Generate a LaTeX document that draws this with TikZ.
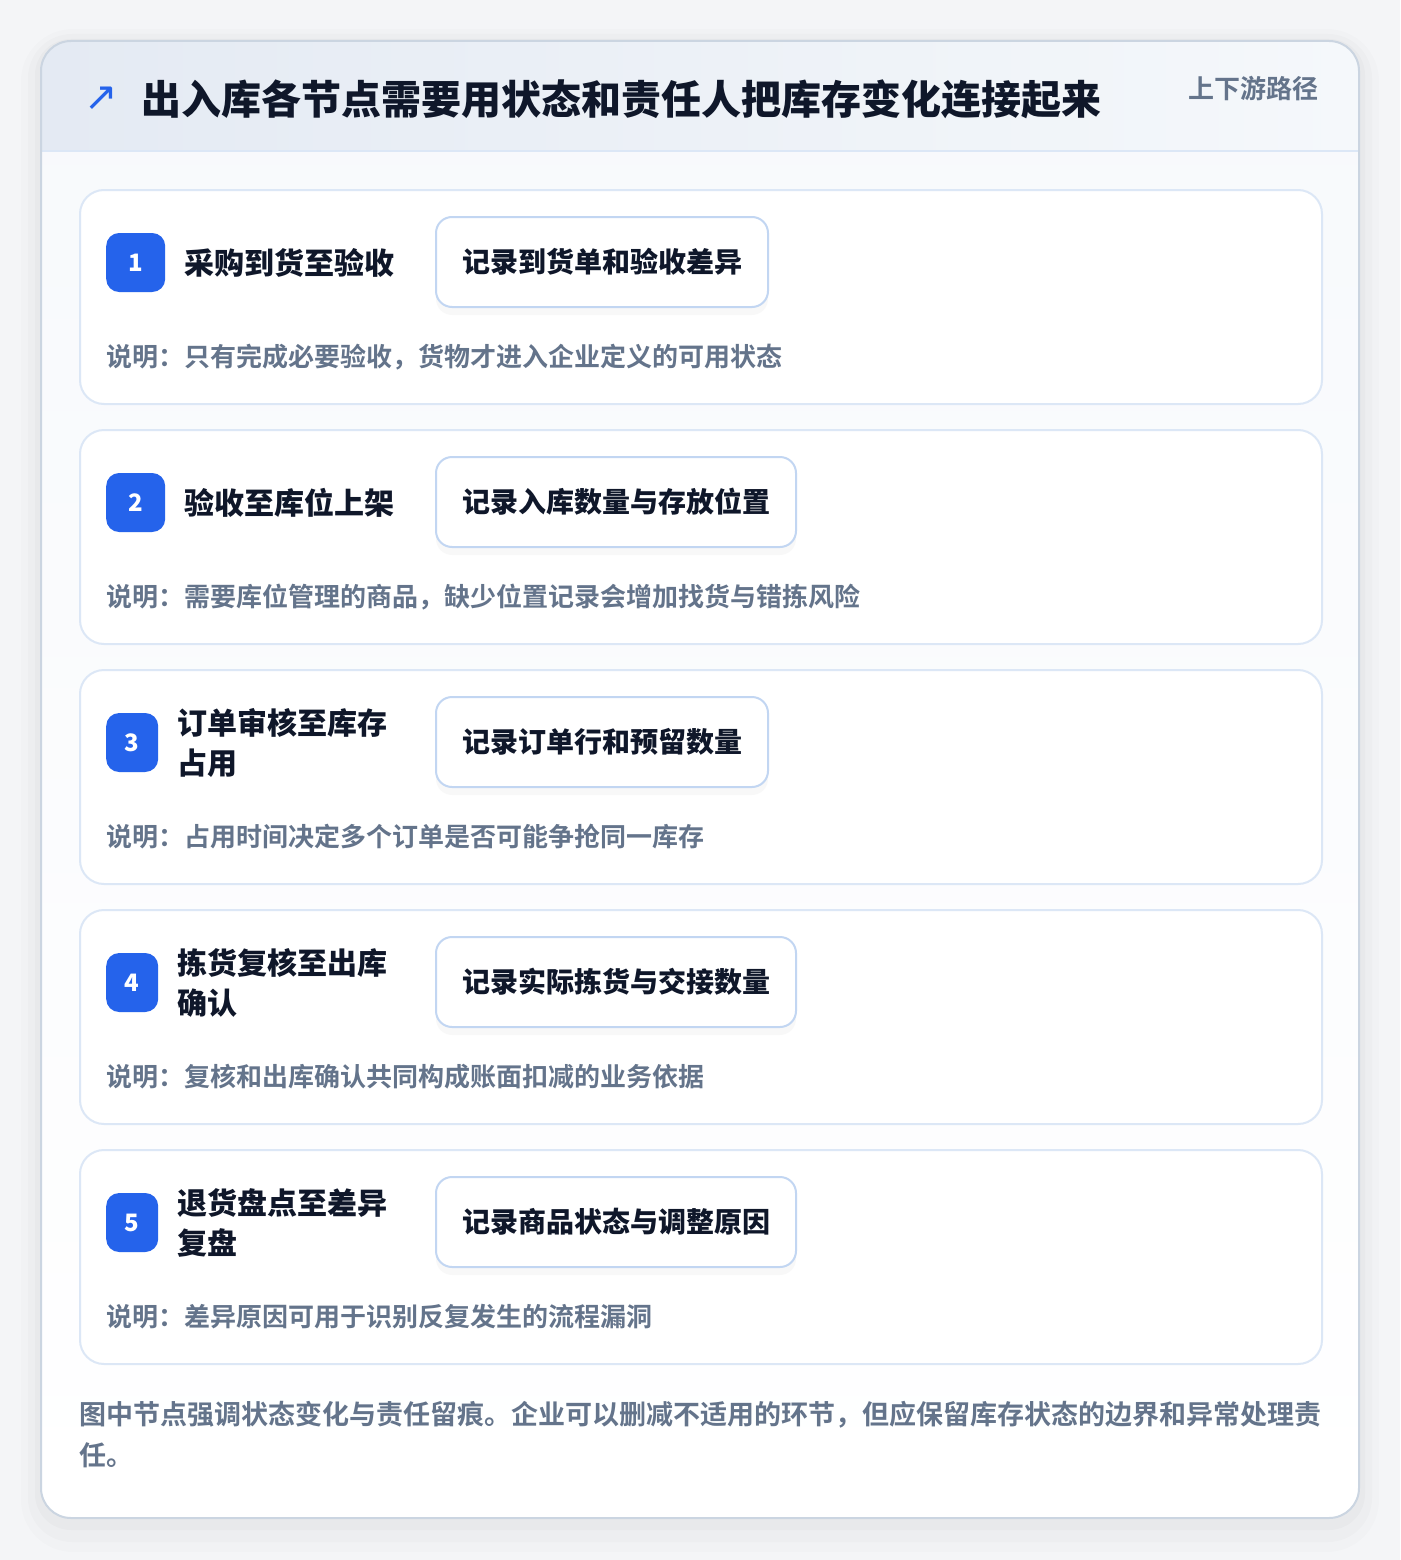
\documentclass[tikz,border=0pt]{standalone}
\usepackage{fontspec}
\setmainfont{Noto Sans CJK SC}[BoldFont={Noto Sans CJK SC Bold}]
\newfontfamily\heavy{Noto Sans CJK SC Black}
\newfontfamily\symfont{DejaVu Sans}
\usetikzlibrary{positioning, shadows, backgrounds}

\definecolor{pagebg}{HTML}{F4F5F7}
\definecolor{panelline}{HTML}{CBD5E1}
\definecolor{headleft}{HTML}{E4EAF3}
\definecolor{headright}{HTML}{F5F8FB}
\definecolor{bodytop}{HTML}{F7F9FC}
\definecolor{cardline}{HTML}{DCE7F6}
\definecolor{recline}{HTML}{C2D6F2}
\definecolor{badgeblue}{HTML}{2563EB}
\definecolor{ink}{HTML}{0F172A}
\definecolor{muted}{HTML}{64748B}

\tikzstyle{card} = [rectangle, rounded corners=24pt, minimum width=1242pt, minimum height=214pt, draw=cardline, line width=2pt, fill=white, anchor=north west]
\tikzstyle{badge} = [rectangle, rounded corners=13pt, minimum height=59pt, fill=badgeblue, text=white, font=\heavy\fontsize{24}{28}\selectfont, anchor=west]
\tikzstyle{stage} = [anchor=west, align=left, inner sep=0pt, text=ink, font=\heavy\fontsize{30}{40}\selectfont]
\tikzstyle{record} = [rectangle, rounded corners=16pt, minimum height=90pt, inner xsep=26pt, draw=recline, line width=2pt, fill=white, text=ink, font=\heavy\fontsize{28}{34}\selectfont, anchor=west, drop shadow={opacity=0.05, shadow xshift=0pt, shadow yshift=-8pt}]
\tikzstyle{note} = [anchor=west, inner sep=0pt, text=muted, font=\fontsize{26}{32}\selectfont\bfseries]

\begin{document}
\begin{tikzpicture}[x=1pt, y=-1pt]
        \useasboundingbox [fill=pagebg] (0,0) rectangle (1400,1560);

        % panel with soft shadow
        \fill [black, opacity=0.010, rounded corners=52pt] (21,29) rectangle (1379,1552);
        \fill [black, opacity=0.014, rounded corners=44pt] (28,34) rectangle (1372,1542);
        \fill [black, opacity=0.020, rounded corners=36pt] (35,39) rectangle (1365,1530);
        \fill [top color=bodytop, bottom color=white, rounded corners=30pt] (41,41) rectangle (1359,1518);
        \begin{scope}
            \clip [rounded corners=30pt] (41,41) rectangle (1359,1518);
            \fill [left color=headleft, right color=headright] (41,41) rectangle (1359,151);
            \draw [cardline, line width=2pt] (41,151) -- (1359,151);
        \end{scope}
        \draw [panelline, line width=2pt, rounded corners=30pt] (41,41) rectangle (1359,1518);

        % header
        \node (icon) [anchor=west, inner sep=0pt, text=badgeblue, font=\symfont\fontsize{40}{40}\selectfont] at (84,99) {↗};
        \node (title) [anchor=west, inner sep=0pt, text=ink, font=\heavy\fontsize{40}{48}\selectfont] at (141,99) {出入库各节点需要用状态和责任人把库存变化连接起来};
        \node (tag) [anchor=east, inner sep=0pt, text=muted, font=\fontsize{26}{32}\selectfont\bfseries] at (1319,89) {上下游路径};

        % step 1
        \node (c1) [card] at (79,189) {};
        \node (b1) [badge, minimum width=59pt] at (106,262.5) {1};
        \node (s1) [stage, right=19pt of b1] {采购到货至验收};
        \node (r1) [record] at (435,262) {记录到货单和验收差异};
        \node (n1) [note] at (106,357) {说明：只有完成必要验收，货物才进入企业定义的可用状态};

        % step 2
        \node (c2) [card] at (79,429) {};
        \node (b2) [badge, minimum width=59pt] at (106,502.5) {2};
        \node (s2) [stage, right=19pt of b2] {验收至库位上架};
        \node (r2) [record] at (435,502) {记录入库数量与存放位置};
        \node (n2) [note] at (106,597) {说明：需要库位管理的商品，缺少位置记录会增加找货与错拣风险};

        % step 3
        \node (c3) [card] at (79,669) {};
        \node (b3) [badge, minimum width=52pt] at (106,742.5) {3};
        \node (s3) [stage, right=19pt of b3] {订单审核至库存\\占用};
        \node (r3) [record] at (435,742) {记录订单行和预留数量};
        \node (n3) [note] at (106,837) {说明：占用时间决定多个订单是否可能争抢同一库存};

        % step 4
        \node (c4) [card] at (79,909) {};
        \node (b4) [badge, minimum width=52pt] at (106,982.5) {4};
        \node (s4) [stage, right=19pt of b4] {拣货复核至出库\\确认};
        \node (r4) [record] at (435,982) {记录实际拣货与交接数量};
        \node (n4) [note] at (106,1077) {说明：复核和出库确认共同构成账面扣减的业务依据};

        % step 5
        \node (c5) [card] at (79,1149) {};
        \node (b5) [badge, minimum width=52pt] at (106,1222.5) {5};
        \node (s5) [stage, right=19pt of b5] {退货盘点至差异\\复盘};
        \node (r5) [record] at (435,1222) {记录商品状态与调整原因};
        \node (n5) [note] at (106,1317) {说明：差异原因可用于识别反复发生的流程漏洞};

        % footer
        \node (foot) [anchor=north west, align=left, inner sep=0pt, text=muted, font=\fontsize{27}{41}\selectfont\bfseries] at (79,1401) {图中节点强调状态变化与责任留痕。企业可以删减不适用的环节，但应保留库存状态的边界和异常处理责\\任。};
\end{tikzpicture}
\end{document}
